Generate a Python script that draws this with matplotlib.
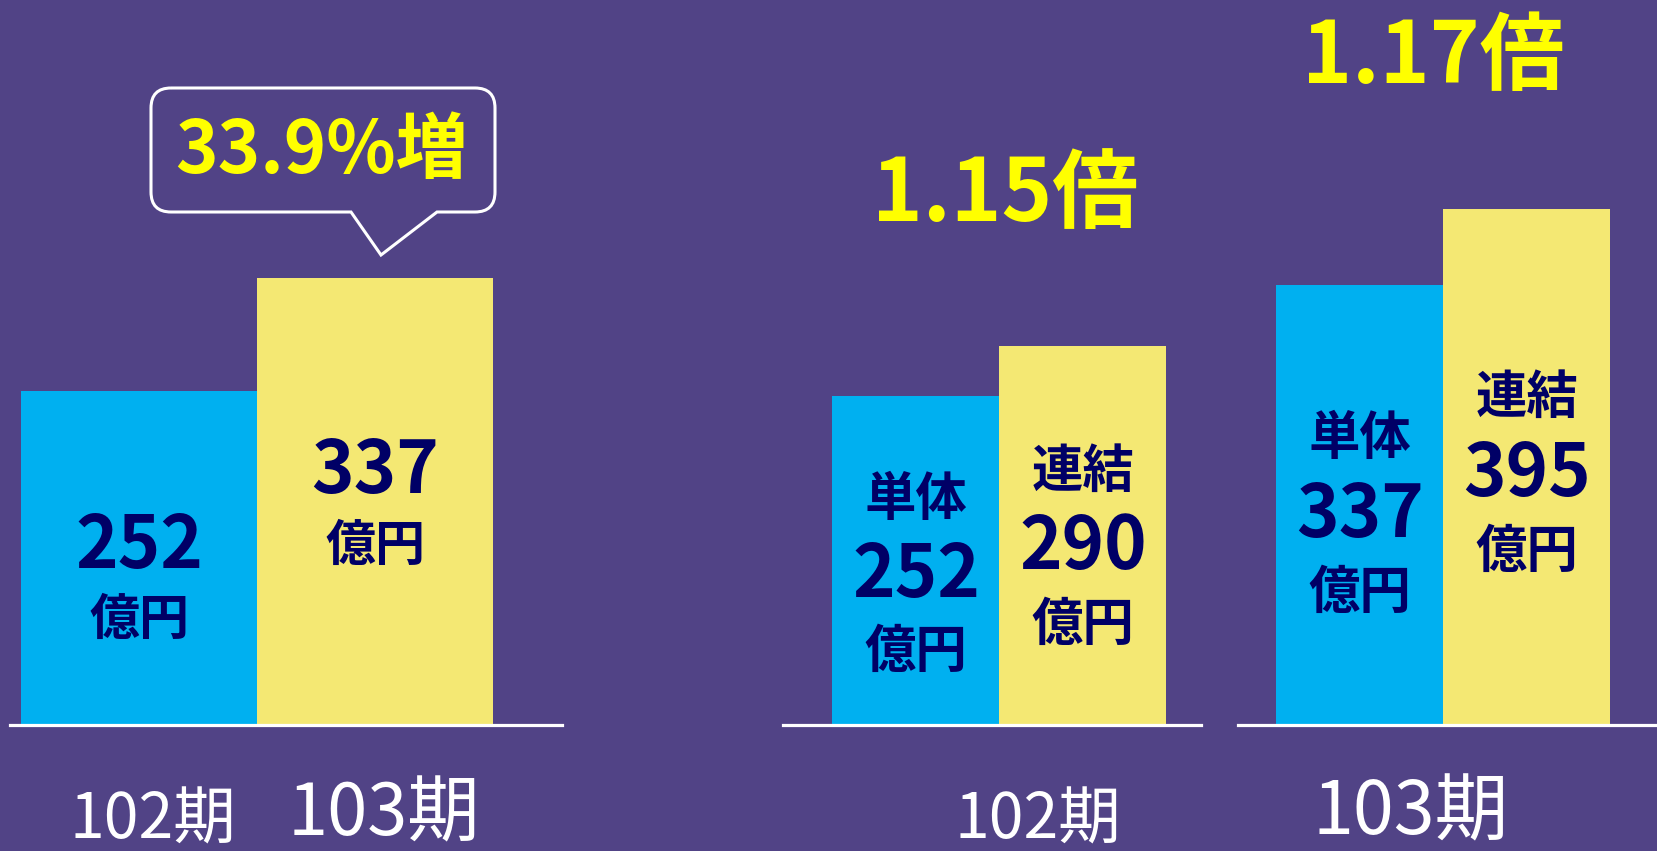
import matplotlib
matplotlib.use("Agg")
import matplotlib.pyplot as plt
from matplotlib.path import Path
from matplotlib.patches import PathPatch
from matplotlib.transforms import Affine2D, blended_transform_factory

plt.rcParams['font.family'] = ['Noto Sans CJK JP', 'DejaVu Sans']

# ---- data ----
periods = ["102期", "103期"]
left_values = [252, 337]             # 単体 102期, 103期
right_tandoku = [252, 337]           # 単体
right_renketsu = [290, 395]          # 連結
growth_label = "33.9%増"
ratio_labels = ["1.15倍", "1.17倍"]
series_names = ["単体", "連結"]
unit = "億円"

# ---- style ----
W, H = 1658, 851
BG = "#514386"
BLUE = "#00B0F0"
YELLOW = "#F4E873"
NAVY = "#000066"
YTEXT = "#FFFF00"
WHITE = "#FFFFFF"

fig = plt.figure(figsize=(W / 100, H / 100), dpi=100, facecolor=BG)


def px_axes(x0, x1, y_top, y_bottom):
    ax = fig.add_axes([x0 / W, 1 - y_bottom / H, (x1 - x0) / W, (y_bottom - y_top) / H])
    ax.set_facecolor(BG)
    ax.patch.set_alpha(0)
    for s in ax.spines.values():
        s.set_visible(False)
    ax.set_xticks([])
    ax.set_yticks([])
    return ax


def ptext(x, y, s, **kw):
    return fig.text(x / W, 1 - y / H, s, ha='center', va='center', **kw)


def btext(ax, xd, y, s, **kw):
    tr = blended_transform_factory(ax.transData, fig.transFigure)
    return ax.text(xd, 1 - y / H, s, transform=tr, ha='center', va='center', **kw)


BASE_Y = 725

# ---- left panel ----
axL = px_axes(10, 562, 0, BASE_Y)
axL.bar([0, 1], left_values, width=1.0, color=[BLUE, YELLOW], align='center')
axL.set_xlim(-0.547, 1.792)
axL.set_ylim(0, BASE_Y / 1.327)
axL.axhline(0, color=WHITE, lw=2.3, clip_on=False, zorder=5)

btext(axL, 0, 547, str(left_values[0]), color=NAVY, fontsize=52, fontweight='bold')
btext(axL, 0, 620, unit, color=NAVY, fontsize=36, fontweight='bold')
btext(axL, 1, 472, str(left_values[1]), color=NAVY, fontsize=52, fontweight='bold')
btext(axL, 1, 546, unit, color=NAVY, fontsize=36, fontweight='bold')

ptext(153, 820, periods[0], color=WHITE, fontsize=45)
ptext(384, 815, periods[1], color=WHITE, fontsize=52)

# callout bubble
x0, x1, yt, yb, r = 151, 495, 88, 212, 20
tl, tt, tr_ = 351, (381, 255), 437
verts = [
    (x0 + r, yt), (x1 - r, yt), (x1, yt), (x1, yt + r),
    (x1, yb - r), (x1, yb), (x1 - r, yb),
    (tr_, yb), tt, (tl, yb),
    (x0 + r, yb), (x0, yb), (x0, yb - r),
    (x0, yt + r), (x0, yt), (x0 + r, yt),
]
codes = [
    Path.MOVETO, Path.LINETO, Path.CURVE3, Path.CURVE3,
    Path.LINETO, Path.CURVE3, Path.CURVE3,
    Path.LINETO, Path.LINETO, Path.LINETO,
    Path.LINETO, Path.CURVE3, Path.CURVE3,
    Path.LINETO, Path.CURVE3, Path.CURVE3,
]
px2fig = Affine2D().scale(1 / W, -1 / H).translate(0, 1) + fig.transFigure
fig.patches.append(PathPatch(Path(verts, codes), facecolor='none', edgecolor=WHITE,
                             lw=2.2, transform=px2fig, joinstyle='miter'))
ptext(322, 152, growth_label, color=YTEXT, fontsize=52, fontweight='bold')

# ---- right panel ----
groups = [
    (783, 1201, 916, 1083),
    (1238, 1658, 1360, 1527),
]
label_y = [  # (name, value, unit) centers per bar
    [(499, 576, 651), (471, 548, 624)],
    [(438, 516, 592), (397, 475, 551)],
]
scale_r = 1.307
for gi, (ax0, ax1, cb, cy) in enumerate(groups):
    ax = px_axes(ax0, ax1, 0, BASE_Y)
    vals = [right_tandoku[gi], right_renketsu[gi]]
    ax.bar([0, 1], vals, width=1.0, color=[BLUE, YELLOW])
    unit_px = cy - cb
    ax.set_xlim(-(cb - ax0) / unit_px, 1 + (ax1 - cy) / unit_px)
    ax.set_ylim(0, BASE_Y / scale_r)
    ax.axhline(0, color=WHITE, lw=2.3, clip_on=False, zorder=5)
    for bi in range(2):
        yn, yv, yu = label_y[gi][bi]
        btext(ax, bi, yn, series_names[bi], color=NAVY, fontsize=37, fontweight='bold')
        btext(ax, bi, yv, str(vals[bi]), color=NAVY, fontsize=52, fontweight='bold')
        btext(ax, bi, yu, unit, color=NAVY, fontsize=37, fontweight='bold')

ptext(1005, 196, ratio_labels[0], color=YTEXT, fontsize=62, fontweight='bold')
ptext(1433, 58, ratio_labels[1], color=YTEXT, fontsize=61, fontweight='bold')
ptext(1038, 820, periods[0], color=WHITE, fontsize=45)
ptext(1411, 814, periods[1], color=WHITE, fontsize=53)

fig.savefig("out.png", dpi=100, facecolor=BG)
